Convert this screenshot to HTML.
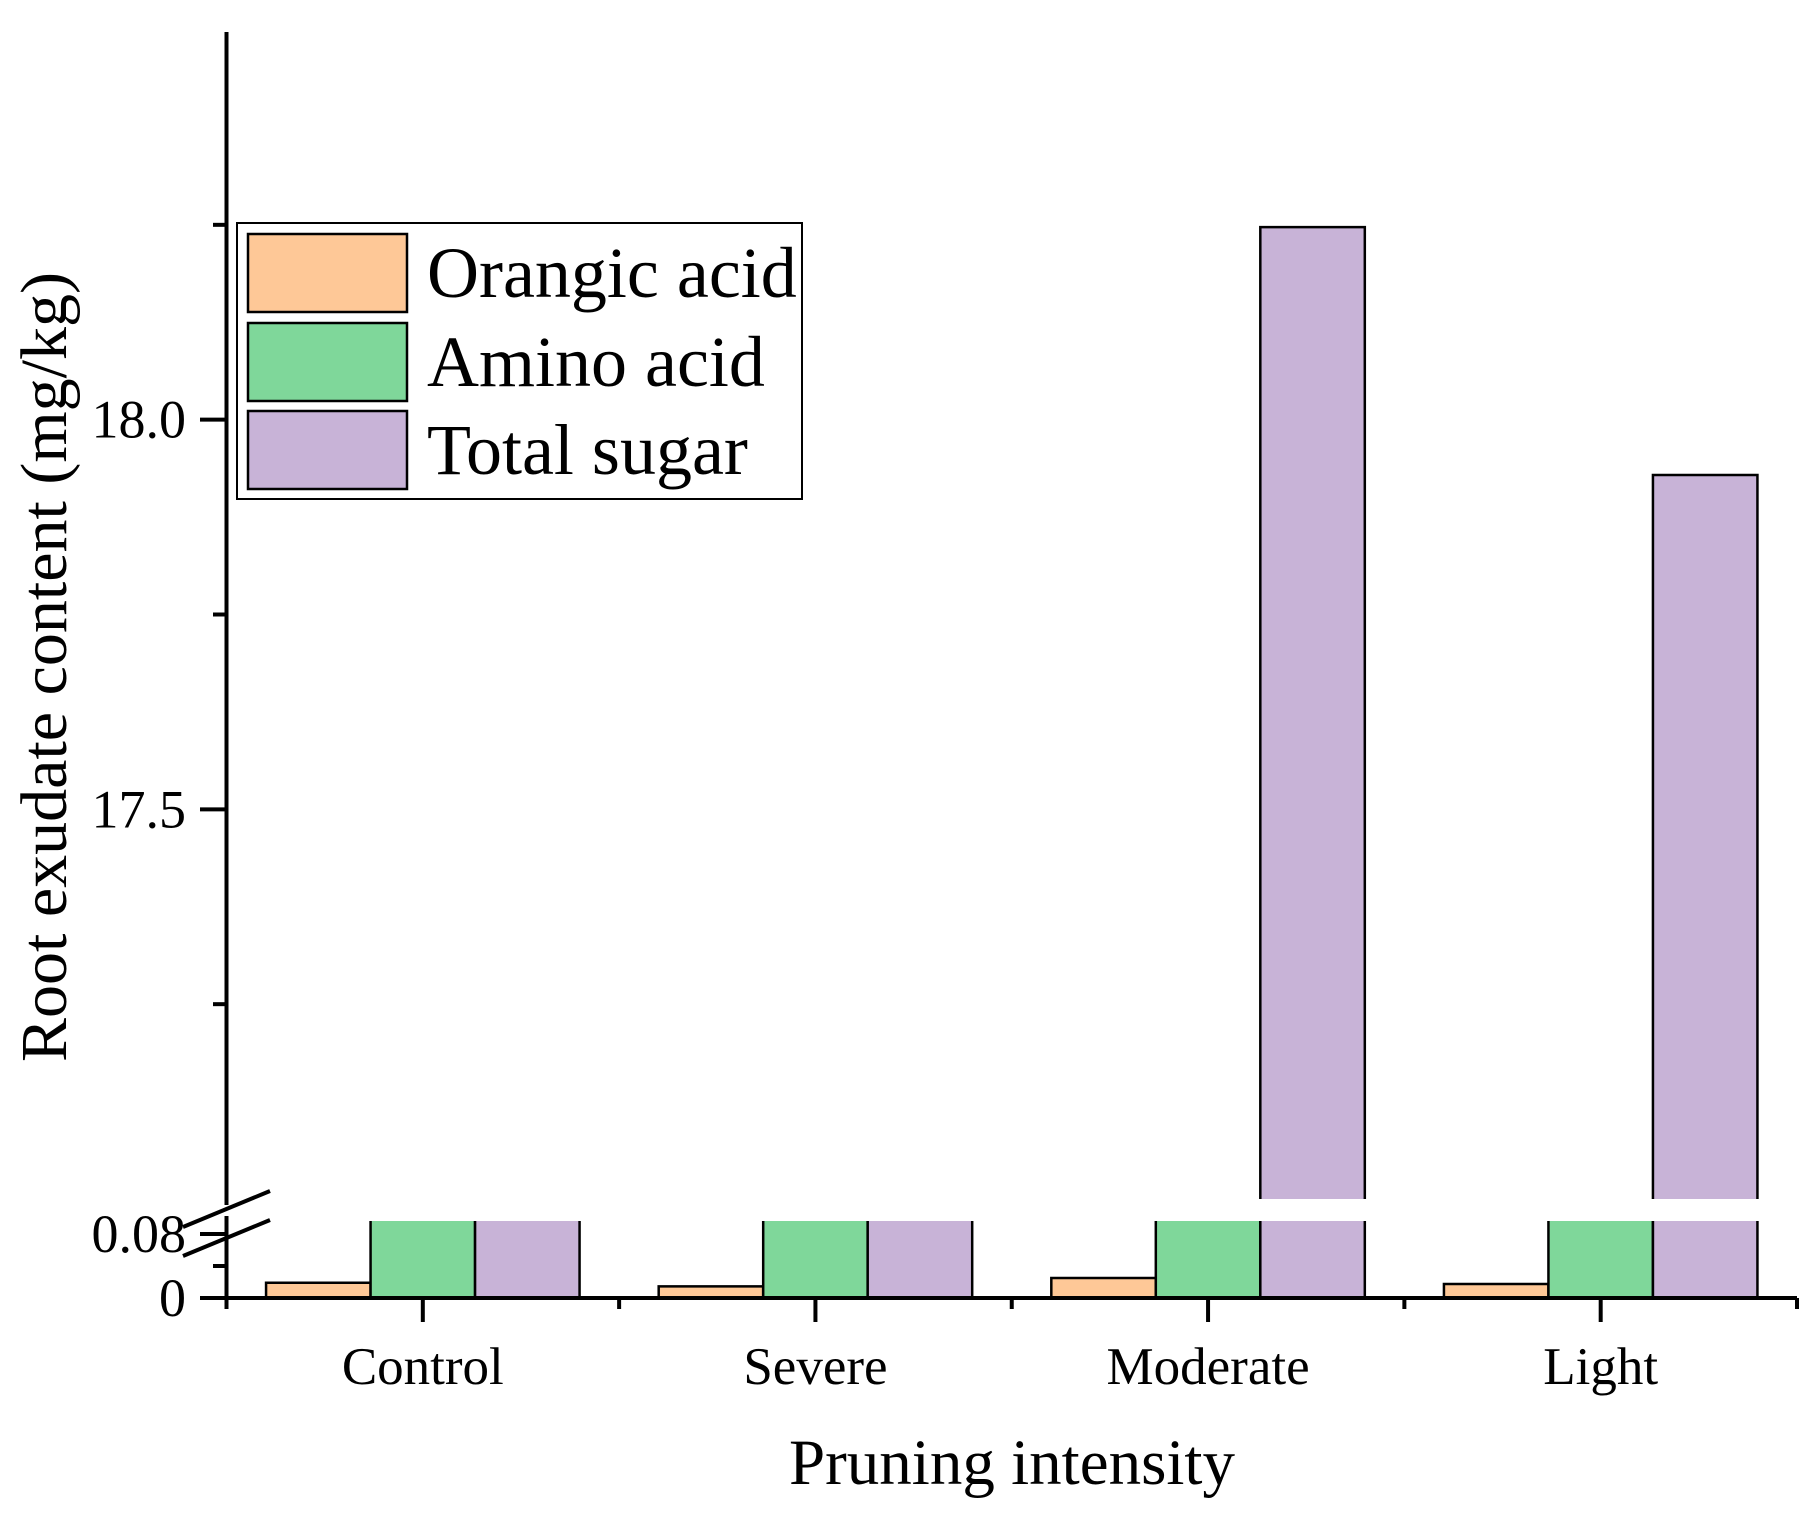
<!DOCTYPE html>
<html><head><meta charset="utf-8"><style>
html,body{margin:0;padding:0;background:#fff}
svg{display:block;font-family:"Liberation Serif",serif}
</style></head><body>
<svg id="c" width="1820" height="1517" viewBox="0 0 1820 1517"></svg>
<script>
const categories=["Control","Severe","Moderate","Light"];
const orangicAcid=[0.019,0.0145,0.025,0.0175];
const aminoAcid=[0.5,0.5,0.5,0.5];
const totalSugar=[0.5,0.5,18.247,17.929];
const upperTicks=[17.5,18.0];
const upperTickLabels=["17.5","18.0"];
const lowerTicks=[0,0.08];
const lowerTickLabels=["0","0.08"];
const seriesNames=["Orangic acid","Amino acid","Total sugar"];
const colors=["#fec897","#7fd79a","#c8b3d7"];

const NS="http://www.w3.org/2000/svg";
const svg=document.getElementById('c');
function mk(t,a,p){const e=document.createElementNS(NS,t);for(const k in a)e.setAttribute(k,a[k]);(p||svg).appendChild(e);return e;}
const X0=226.5,X1=1797,Y0=1298;
const LMAX=0.1,LTOP=1221,UMIN=17.0,UBOT=1199,UMAX=18.5,UTOP=30;
const L008=1234;
function yLow(v){return Y0-(Math.min(v,LMAX))/0.08*(Y0-L008);}
function yUp(v){return UBOT-(v-UMIN)/(UMAX-UMIN)*(UBOT-UTOP);}
const gw=(X1-X0)/categories.length,bw=104.5;
function gc(i){return X0+gw*(i+0.5);}

const series=[orangicAcid,aminoAcid,totalSugar];
series.forEach((s,si)=>{
  s.forEach((v,i)=>{
    const x=gc(i)+(si-1.5)*bw;
    let yl=yLow(v);
    const clipped=yl<LTOP;
    if(clipped) yl=LTOP;
    const f=mk('rect',{x:x,y:yl,width:bw,height:Y0-yl,fill:colors[si]});
    
    
    const d=clipped?`M${x},${yl}V${Y0}M${x+bw},${yl}V${Y0}`:`M${x},${Y0}V${yl}H${x+bw}V${Y0}`;
    mk('path',{d:d,fill:'none',stroke:'#000','stroke-width':2.5});
    if(v>UMIN){
      const yu=yUp(v);
      const r2=mk('rect',{x:x,y:yu,width:bw,height:UBOT-yu,fill:colors[si]});
      
      
      mk('path',{d:`M${x},${UBOT}V${yu}H${x+bw}V${UBOT}`,fill:'none',stroke:'#000','stroke-width':2.5});
    }
  });
});
const ax=mk('g',{stroke:'#000','stroke-width':4,fill:'none'});


mk('line',{x1:X0,y1:32,x2:X0,y2:1205},ax);
mk('line',{x1:X0,y1:1216,x2:X0,y2:Y0+2},ax);
mk('line',{x1:200,y1:Y0,x2:X1,y2:Y0},ax);
mk('line',{x1:183,y1:1227,x2:270,y2:1191},ax);
mk('line',{x1:183,y1:1256,x2:270,y2:1220},ax);
upperTicks.forEach((v,i)=>{const y=yUp(v);mk('line',{x1:200,y1:y,x2:X0,y2:y},ax);
  const t=mk('text',{x:186,y:y+18,'text-anchor':'end','font-size':54,fill:'#000'});t.textContent=upperTickLabels[i];
  });
[17.25,17.75,18.25].forEach(v=>{const y=yUp(v);mk('line',{x1:213,y1:y,x2:X0,y2:y},ax);});
lowerTicks.forEach((v,i)=>{const y=yLow(v);mk('line',{x1:200,y1:y,x2:X0,y2:y},ax);
  const t=mk('text',{x:186,y:y+18,'text-anchor':'end','font-size':54,fill:'#000'});t.textContent=lowerTickLabels[i];
  });
mk('line',{x1:213,y1:yLow(0.04),x2:X0,y2:yLow(0.04)},ax);
for(let i=0;i<=categories.length;i++){const x=X0+gw*i;mk('line',{x1:x,y1:Y0,x2:x,y2:Y0+11},ax);}
categories.forEach((c,i)=>{const x=gc(i);mk('line',{x1:x,y1:Y0,x2:x,y2:Y0+24},ax);
  const t=mk('text',{x:x,y:1384,'text-anchor':'middle','font-size':53,fill:'#000'});t.textContent=c;
  });
const xt=mk('text',{x:1012,y:1484,'text-anchor':'middle','font-size':65,fill:'#000'});xt.textContent='Pruning intensity';

const yt=mk('text',{x:0,y:0,'text-anchor':'middle','font-size':66,fill:'#000',transform:'translate(66,667) rotate(-90)'});yt.textContent='Root exudate content (mg/kg)';

const lg=mk('g',{});

mk('rect',{x:237,y:223,width:565,height:276,fill:'#fff',stroke:'#000','stroke-width':2},lg);
const rows=[234,323,411];
seriesNames.forEach((n,i)=>{
  const sw=mk('rect',{x:248,y:rows[i],width:159,height:78,fill:colors[i],stroke:'#000','stroke-width':2.5},lg);
  
  const t=mk('text',{x:427,y:rows[i]+63,'font-size':72,fill:'#000'},lg);t.textContent=n;
  
});
</script>
</body></html>
